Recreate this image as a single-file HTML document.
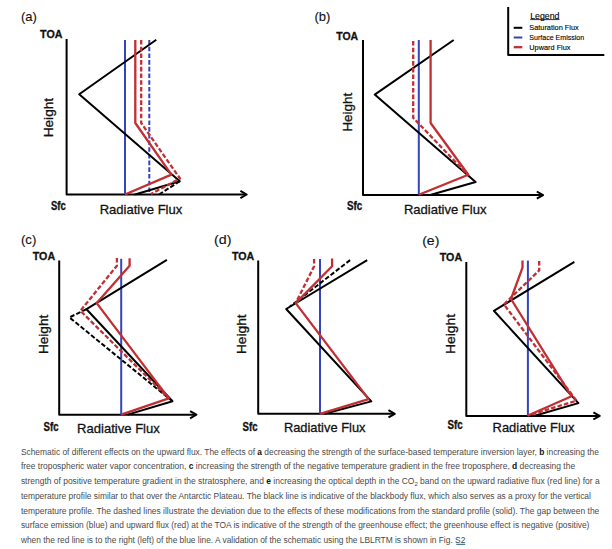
<!DOCTYPE html>
<html><head><meta charset="utf-8">
<style>
html,body{margin:0;padding:0;background:#fff;width:612px;height:549px;overflow:hidden}
svg{display:block}
text{font-family:"Liberation Sans",sans-serif}
</style></head>
<body>
<svg width="612" height="549" viewBox="0 0 612 549">
<g fill="none" stroke-linejoin="round" stroke-linecap="butt">
<!-- ===== Panel (a) ===== -->
<g id="pa">
<path d="M66.6,39 V194.5 H246" stroke="#000" stroke-width="2"/>
<path d="M240.4,190.9 L246.7,194.5 L240.4,198.1" stroke="#000" stroke-width="2"/>
<polyline points="125,40 125,194" stroke="#3444bc" stroke-width="2"/>
<polyline points="149.3,40 149.3,194" stroke="#3444bc" stroke-width="2" stroke-dasharray="4.6 2.1"/>
<polyline points="156.3,39.8 79.2,94.2 179.8,181.2 135,194.5" stroke="#000" stroke-width="2"/>
<polyline points="179.8,181.2 159,194.5" stroke="#000" stroke-width="2" stroke-dasharray="4.6 2.1"/>
<polyline points="135.3,40 135.3,123 171.4,174.6 125,194.5" stroke="#c22f33" stroke-width="2.3"/>
<polyline points="141.2,40 141.2,123 180,178.5 151,194" stroke="#c22f33" stroke-width="2.3" stroke-dasharray="4.6 2.1"/>
</g>
<!-- ===== Panel (b) ===== -->
<g id="pb">
<path d="M363,40 V195.1 H542.5" stroke="#000" stroke-width="2"/>
<path d="M536.8,191.5 L543.1,195.1 L536.8,198.7" stroke="#000" stroke-width="2"/>
<polyline points="418.8,40 418.8,194.7" stroke="#3444bc" stroke-width="2"/>
<polyline points="453.7,40 374.7,94.6 475.6,182 431,194.7" stroke="#000" stroke-width="2"/>
<polyline points="430.6,40 430.6,123 468.3,174.7 418.8,194.7" stroke="#c22f33" stroke-width="2.3"/>
<polyline points="413.2,41 413.2,117.8 468,175" stroke="#c22f33" stroke-width="2.3" stroke-dasharray="4.6 2.1"/>
</g>
<!-- ===== Panel (c) ===== -->
<g id="pc">
<path d="M59.2,260.5 V414.7 H196" stroke="#000" stroke-width="2"/>
<path d="M190.1,411.1 L196.4,414.7 L190.1,418.3" stroke="#000" stroke-width="2"/>
<polyline points="121.2,258.8 121.2,414.6" stroke="#3444bc" stroke-width="2"/>
<polyline points="166.9,259.8 86.5,309.2 172.5,401.3 127.6,414.6" stroke="#000" stroke-width="2"/>
<polyline points="86.5,309.2 69.4,317.4 172.5,401.3" stroke="#000" stroke-width="2" stroke-dasharray="4.6 2.1"/>
<polyline points="129.6,258.2 129.6,265.7 96.7,303.1 168.8,398.4 121.2,414.6" stroke="#c22f33" stroke-width="2.3"/>
<polyline points="116.9,258 116.9,265.7 80.4,310.8 168.8,398.4" stroke="#c22f33" stroke-width="2.3" stroke-dasharray="4.6 2.1"/>
</g>
<!-- ===== Panel (d) ===== -->
<g id="pd">
<path d="M258.2,260.5 V413.8 H394.3" stroke="#000" stroke-width="2"/>
<path d="M388.5,410.2 L394.8,413.8 L388.5,417.4" stroke="#000" stroke-width="2"/>
<polyline points="320,259 320,413.8" stroke="#3444bc" stroke-width="2"/>
<polyline points="367.2,260.1 286.2,309 371.3,401.4 324.5,413.8" stroke="#000" stroke-width="2"/>
<polyline points="350.1,260.1 290,306.5" stroke="#000" stroke-width="2" stroke-dasharray="4.6 2.1"/>
<polyline points="332.1,258.5 332.1,266.3 295.7,303.1 368.6,399.1 320,413.8" stroke="#c22f33" stroke-width="2.3"/>
<polyline points="314.1,259 314.1,266.3 295.7,303.1" stroke="#c22f33" stroke-width="2.3" stroke-dasharray="4.6 2.1"/>
</g>
<!-- ===== Panel (e) ===== -->
<g id="pe">
<path d="M466.3,262 V415.9 H599" stroke="#000" stroke-width="2"/>
<path d="M593.4,412.3 L599.7,415.9 L593.4,419.5" stroke="#000" stroke-width="2"/>
<polyline points="527.9,260.6 527.9,416" stroke="#3444bc" stroke-width="2"/>
<polyline points="574.4,261.8 493.9,310.8 578.4,403.1 533.8,416" stroke="#000" stroke-width="2"/>
<polyline points="522.5,260.6 522.5,267.6 511,299 571.6,396.3 528,415.5" stroke="#c22f33" stroke-width="2.3"/>
<polyline points="539.2,261 539.2,270.4 503.9,304.4 576.5,400.7 528,415.5" stroke="#c22f33" stroke-width="2.3" stroke-dasharray="4.6 2.1"/>
</g>
<!-- ===== Legend ===== -->
<path d="M508.2,7 V54.9 H604.3" stroke="#000" stroke-width="2"/>
<path d="M513.7,27.8 H522.3" stroke="#000" stroke-width="2"/>
<path d="M513.7,37.5 H522.3" stroke="#3444bc" stroke-width="2"/>
<path d="M513.7,47.2 H522.3" stroke="#c22f33" stroke-width="2.3"/>
<path d="M530.2,19.6 H559.5" stroke="#000" stroke-width="0.8"/>
</g>

<g fill="#111">
<!-- panel letters -->
<text x="20.9" y="21" font-size="13" textLength="15.9" lengthAdjust="spacingAndGlyphs" stroke="#111" stroke-width="0.12">(a)</text>
<text x="314.4" y="21" font-size="13" textLength="15.9" lengthAdjust="spacingAndGlyphs" stroke="#111" stroke-width="0.12">(b)</text>
<text x="20.9" y="244" font-size="13" textLength="15.4" lengthAdjust="spacingAndGlyphs" stroke="#111" stroke-width="0.12">(c)</text>
<text x="214.0" y="244" font-size="13" textLength="17.4" lengthAdjust="spacingAndGlyphs" stroke="#111" stroke-width="0.12">(d)</text>
<text x="422.2" y="244.5" font-size="13" textLength="17.2" lengthAdjust="spacingAndGlyphs" stroke="#111" stroke-width="0.12">(e)</text>
<!-- TOA -->
<g font-weight="bold" font-size="11.6" stroke="#111" stroke-width="0.3">
<text x="40.1" y="37.6" textLength="22.3" lengthAdjust="spacingAndGlyphs">TOA</text>
<text x="336.2" y="39.5" textLength="21.9" lengthAdjust="spacingAndGlyphs">TOA</text>
<text x="32.8" y="259.5" textLength="22.3" lengthAdjust="spacingAndGlyphs">TOA</text>
<text x="231.9" y="259.5" textLength="22.2" lengthAdjust="spacingAndGlyphs">TOA</text>
<text x="439.8" y="261.1" textLength="22.3" lengthAdjust="spacingAndGlyphs">TOA</text>
</g>
<!-- Sfc -->
<g font-weight="bold" font-size="12.2" stroke="#111" stroke-width="0.35">
<text x="50.9" y="210.2" textLength="14.8" lengthAdjust="spacingAndGlyphs">Sfc</text>
<text x="346.9" y="210.3" textLength="15.2" lengthAdjust="spacingAndGlyphs">Sfc</text>
<text x="43.6" y="430.5" textLength="15" lengthAdjust="spacingAndGlyphs">Sfc</text>
<text x="242.6" y="430.5" textLength="15" lengthAdjust="spacingAndGlyphs">Sfc</text>
<text x="447.4" y="428.8" textLength="15.2" lengthAdjust="spacingAndGlyphs">Sfc</text>
</g>
<!-- Radiative Flux -->
<g font-size="13.6" stroke="#111" stroke-width="0.3">
<text x="99.7" y="214.1" textLength="82.6" lengthAdjust="spacingAndGlyphs">Radiative Flux</text>
<text x="403.9" y="214.1" textLength="82.6" lengthAdjust="spacingAndGlyphs">Radiative Flux</text>
<text x="77.1" y="432.6" textLength="82.7" lengthAdjust="spacingAndGlyphs">Radiative Flux</text>
<text x="283.9" y="432.4" textLength="81.6" lengthAdjust="spacingAndGlyphs">Radiative Flux</text>
<text x="492.6" y="432.2" textLength="81.8" lengthAdjust="spacingAndGlyphs">Radiative Flux</text>
</g>
<!-- Height -->
<g font-size="13.6" stroke="#111" stroke-width="0.3">
<text transform="translate(53,137.3) rotate(-90)" textLength="39.4" lengthAdjust="spacingAndGlyphs">Height</text>
<text transform="translate(352.3,131.6) rotate(-90)" textLength="38.8" lengthAdjust="spacingAndGlyphs">Height</text>
<text transform="translate(48,354.1) rotate(-90)" textLength="39.4" lengthAdjust="spacingAndGlyphs">Height</text>
<text transform="translate(246,354.1) rotate(-90)" textLength="39.8" lengthAdjust="spacingAndGlyphs">Height</text>
<text transform="translate(454.8,354.1) rotate(-90)" textLength="40.2" lengthAdjust="spacingAndGlyphs">Height</text>
</g>
<!-- Legend text -->
<g font-size="7.4" fill="#000" stroke="#000" stroke-width="0.12">
<text x="530.2" y="18.5" font-size="9" textLength="29.3" lengthAdjust="spacingAndGlyphs">Legend</text>
<text x="529.3" y="30.3" textLength="49.4" lengthAdjust="spacingAndGlyphs">Saturation Flux</text>
<text x="529.3" y="40" textLength="54.9" lengthAdjust="spacingAndGlyphs">Surface Emission</text>
<text x="529.3" y="49.7" textLength="41.2" lengthAdjust="spacingAndGlyphs">Upward Flux</text>
</g>
</g>

<!-- caption -->
<g fill="#4a4a4a" font-size="8.4">
<text x="20.9" y="454.5" textLength="578" lengthAdjust="spacingAndGlyphs">Schematic of different effects on the upward flux. The effects of <tspan font-weight="bold" fill="#111">a</tspan> decreasing the strength of the surface-based temperature inversion layer, <tspan font-weight="bold" fill="#111">b</tspan> increasing the</text>
<text x="20.9" y="469.4" textLength="554.2" lengthAdjust="spacingAndGlyphs">free tropospheric water vapor concentration, <tspan font-weight="bold" fill="#111">c</tspan> increasing the strength of the negative temperature gradient in the free troposphere, <tspan font-weight="bold" fill="#111">d</tspan> decreasing the</text>
<text x="20.9" y="484.2" textLength="578.8" lengthAdjust="spacingAndGlyphs">strength of positive temperature gradient in the stratosphere, and <tspan font-weight="bold" fill="#111">e</tspan> increasing the optical depth in the CO<tspan font-size="6" dy="1.5">2</tspan><tspan dy="-1.5"> band on the upward radiative flux (red line) for a</tspan></text>
<text x="20.9" y="498.8" textLength="570" lengthAdjust="spacingAndGlyphs">temperature profile similar to that over the Antarctic Plateau. The black line is indicative of the blackbody flux, which also serves as a proxy for the vertical</text>
<text x="20.9" y="513.5" textLength="578.4" lengthAdjust="spacingAndGlyphs">temperature profile. The dashed lines illustrate the deviation due to the effects of these modifications from the standard profile (solid). The gap between the</text>
<text x="20.9" y="528.2" textLength="568.5" lengthAdjust="spacingAndGlyphs">surface emission (blue) and upward flux (red) at the TOA is indicative of the strength of the greenhouse effect; the greenhouse effect is negative (positive)</text>
<text x="20.9" y="542.9" textLength="444.4" lengthAdjust="spacingAndGlyphs">when the red line is to the right (left) of the blue line. A validation of the schematic using the LBLRTM is shown in Fig. <tspan fill="#2f4a66">S2</tspan></text>
<path d="M456.3,544.3 H465.2" stroke="#1e5a7a" stroke-width="1"/>
</g>
</svg>
</body></html>
